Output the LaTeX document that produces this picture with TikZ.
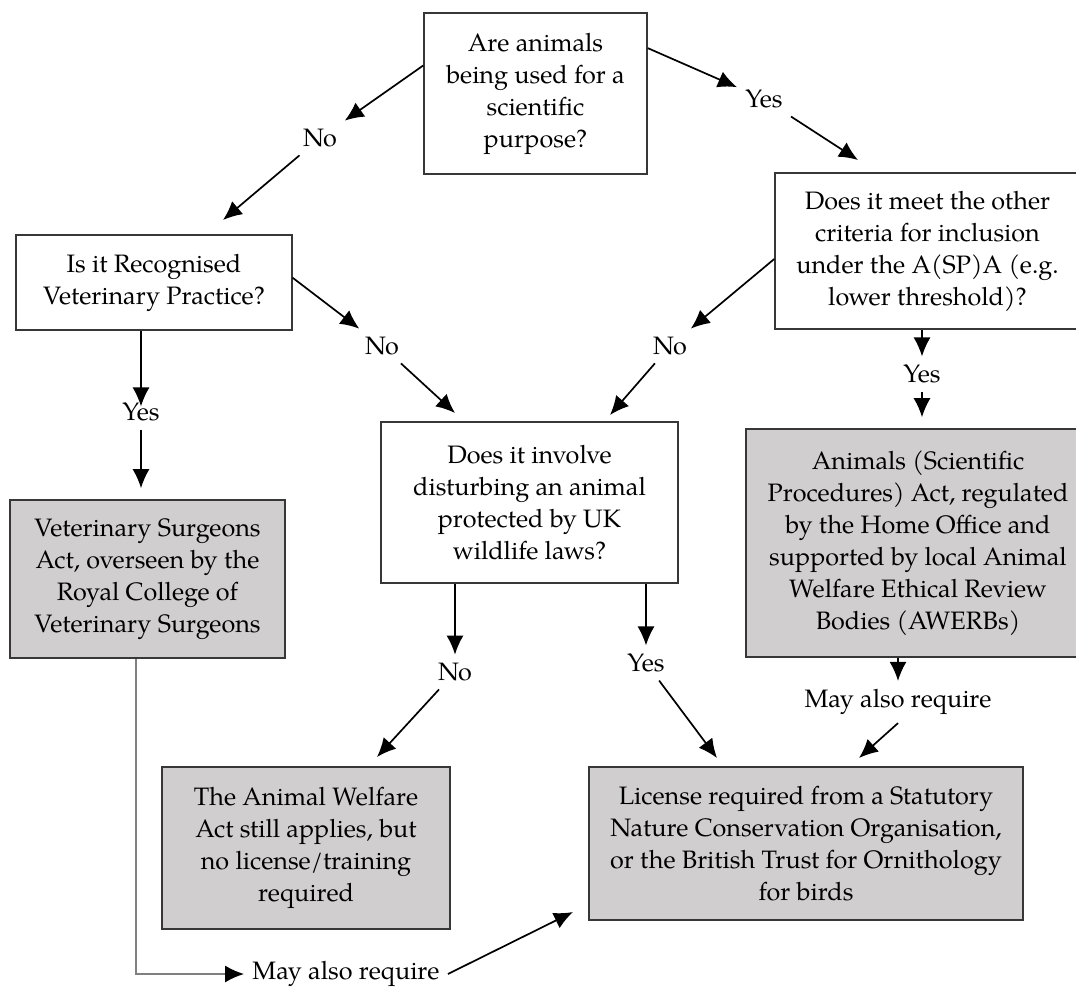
\documentclass[tikz,border=0pt]{standalone}
\usepackage{fontspec}
\setmainfont{TeX Gyre Pagella}
\usepackage{xcolor}
\usepackage{tikz}
\usetikzlibrary{calc}
\usetikzlibrary{arrows.meta}
\usetikzlibrary{positioning}
\definecolor{actgray}{RGB}{208,206,206}
\definecolor{edgegray}{RGB}{55,55,55}
\tikzset{>=latex}
\tikzset{qbox/.style = {rectangle, draw=edgegray, line width=0.8pt, fill=white, align=center, inner sep=2pt, font=\fontsize{12.6}{16}\selectfont}}
\tikzset{actbox/.style = {qbox, fill=actgray}}
\tikzset{lbl/.style = {draw=none, inner sep=4pt, font=\fontsize{12.6}{16}\selectfont}}
\tikzset{arr/.style = {-{Latex[length=9.5pt, width=8.5pt, color=black]}, line width=0.85pt}}

\begin{document}
\begin{tikzpicture}[x=0.5pt, y=-0.5pt]
\useasboundingbox[fill=white] (0,0) rectangle (1076,987);
% questions
\node [qbox, minimum width=111.5pt, minimum height=80.5pt] (purpose) at (535.5,93.5) {Are animals\\being used for a\\scientific\\purpose?};
\node [qbox, minimum width=137.75pt, minimum height=47.5pt] (vet) at (154,282.5) {Is it Recognised\\Veterinary Practice?};
\node [qbox, minimum width=152.5pt, minimum height=78pt] (crit) at (927.5,251) {Does it meet the other\\criteria for inclusion\\under the A(SP)A (e.g.\\lower threshold)?};
\node [qbox, minimum width=148.5pt, minimum height=80.5pt] (wild) at (529.5,502.5) {Does it involve\\disturbing an animal\\protected by UK\\wildlife laws?};
% outcomes
\node [actbox, minimum width=137.5pt, minimum height=79pt] (vsa) at (147.5,579) {Veterinary Surgeons\\Act, overseen by the\\Royal College of\\Veterinary Surgeons};
\node [actbox, minimum width=172pt, minimum height=114pt] (aspa) at (918,543) {Animals (Scientific\\Procedures) Act, regulated\\by the Home Office and\\supported by local Animal\\Welfare Ethical Review\\Bodies (AWERBs)};
\node [actbox, minimum width=144pt, minimum height=81pt] (awa) at (306,848) {The Animal Welfare\\Act still applies, but\\no license/training\\required};
\node [actbox, minimum width=217pt, minimum height=76.5pt] (lic) at (806,843.5) {License required from a Statutory\\Nature Conservation Organisation,\\or the British Trust for Ornithology\\for birds};
% labels
\node [lbl] (no1) at (320,138) {No};
\node [lbl] (yes1) at (764,99) {Yes};
\node [lbl] (no2) at (382,346) {No};
\node [lbl] (no3) at (670,346) {No};
\node [lbl] (yes2) at (141,412) {Yes};
\node [lbl] (yes3) at (922,374) {Yes};
\node [lbl] (no4) at (455,672) {No};
\node [lbl] (yes4) at (646,663) {Yes};
\node [lbl] (may1) at (898,702) {May also require};
\node [lbl] (may2) at (346,974) {May also require};
% free arrow ends
\coordinate (vetTip) at (223,220);
\coordinate (critTip) at (858,160);
\coordinate (wildTipL) at (455,413);
\coordinate (wildTipR) at (610,415);
\coordinate (awaTip) at (377,757);
\coordinate (licTipL) at (717,758);
\coordinate (licTipR) at (859,758);
\coordinate (licTipB) at (573,912);
% connectors
\draw [arr] (purpose.166) -- (no1);
\draw [arr] (no1) -- (vetTip);
\draw [arr] (purpose.22) -- (yes1);
\draw [arr] (yes1) -- (critTip);
\draw [arr] (vet.2) -- (no2);
\draw [arr] (no2) -- (wildTipL);
\draw [arr] (crit.183) -- (no3);
\draw [arr] (no3) -- (wildTipR);
\draw [arr, shorten >=-6pt] (vet.south -| yes2) -- (yes2);
\draw [arr, shorten >=5.5pt] (yes2) -- (vsa.north -| yes2);
\draw [arr] (crit.south -| yes3) -- (yes3);
\draw [arr, shorten >=5.5pt] (yes3) -- (aspa.north -| yes3);
\draw [arr] (wild.south -| no4) -- (no4);
\draw [arr] (no4) -- (awaTip);
\draw [arr] (wild.south -| yes4) -- (yes4);
\draw [arr] (yes4) -- (licTipL);
\draw [arr] (aspa.south -| may1) -- (may1);
\draw [arr] (may1.south) -- (licTipR);
\draw [arr, draw=gray] ([xshift=-5.75pt]vsa.south) |- (may2);
\draw [arr] (may2.east) -- (licTipB);
\end{tikzpicture}
\end{document}
